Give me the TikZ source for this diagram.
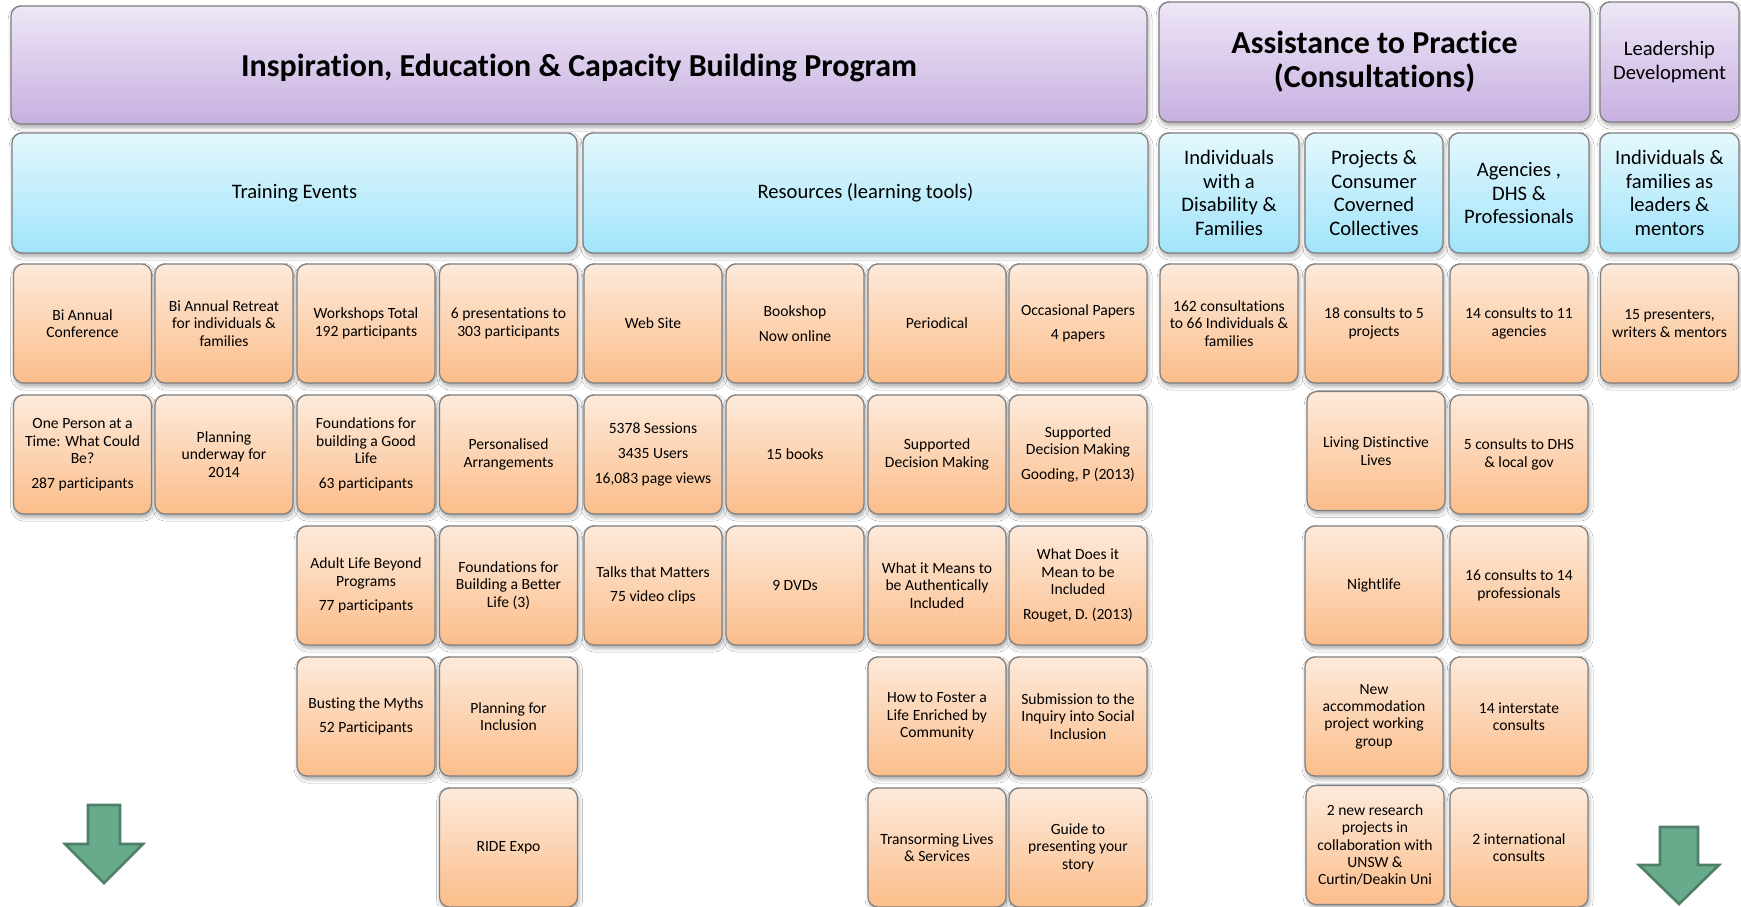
\documentclass[tikz,border=0pt]{standalone}
\usepackage{fontspec}
\setmainfont{Carlito}[Ligatures=NoCommon]
\usetikzlibrary{shadows.blur}
\definecolor{ptop}{HTML}{EEE7F7}
\definecolor{pbot}{HTML}{C7AFE0}
\definecolor{ctop}{HTML}{E4F8FD}
\definecolor{cbot}{HTML}{A0E4FA}
\definecolor{otop}{HTML}{FDEADB}
\definecolor{obot}{HTML}{FBBD8A}
\definecolor{edge}{HTML}{7F7F7F}
\definecolor{arfill}{HTML}{67AB8C}
\definecolor{aredge}{HTML}{4E8068}
\newcommand{\pg}{\\[3.6pt]}
\tikzset{
  box/.style={draw=edge, line width=0.6pt, rounded corners=5pt, align=center, inner sep=1pt,
    blur shadow={shadow xshift=0.6pt, shadow yshift=-1.6pt, shadow blur radius=2pt, shadow opacity=35}},
  ttl/.style={box, top color=ptop, bottom color=pbot, font=\fontsize{16}{17}\selectfont\bfseries},
  lead/.style={box, top color=ptop, bottom color=pbot, font=\fontsize{10.3}{12}\selectfont},
  cat/.style={box, top color=ctop, bottom color=cbot, font=\fontsize{10.3}{11.7}\selectfont},
  item/.style={box, top color=otop, bottom color=obot, minimum width=69pt, minimum height=59.5pt,
    font=\fontsize{7.8}{8.7}\selectfont},
  darrow/.style={fill=arfill, draw=aredge, line width=1.3pt, line join=miter},
}
\begin{document}
\begin{tikzpicture}[x=0.5pt,y=-0.5pt]
\fill[white] (0,0) rectangle (1741,906);
\path[use as bounding box, clip] (0,0) rectangle (1741,906);
% top row
\node[ttl, minimum width=568pt, minimum height=59pt] (prog) at (579,65) {\raisebox{-1.6pt}[\height][\depth]{Inspiration, Education \& Capacity Building Program}};
\node[ttl, minimum width=215.5pt, minimum height=60pt] (assist) at (1374.5,62) {Assistance to Practice\\(Consultations)};
\node[lead, minimum width=69.5pt, minimum height=60pt] (leader) at (1669.5,62) {Leadership\\Development};
% category row
\node[cat, minimum width=282.5pt, minimum height=60pt] (train) at (294.5,193) {Training Events};
\node[cat, minimum width=282.5pt, minimum height=60pt] (res) at (865.5,193) {Resources (learning tools)};
\node[cat, minimum width=70pt, minimum height=60pt] (indiv) at (1229,193) {Individuals\\with a\\Disability \&\\Families};
\node[cat, minimum width=69pt, minimum height=60pt] (proj) at (1374,193) {Projects \&\\Consumer\\Coverned\\Collectives};
\node[cat, minimum width=70pt, minimum height=60pt] (agen) at (1519,193) {Agencies ,\\DHS \&\\Professionals};
\node[cat, minimum width=69.5pt, minimum height=60pt] (fam) at (1669.5,193) {Individuals \&\\families as\\leaders \&\\mentors};
% row 1
\node[item] (a1) at (82.5,323.5) {Bi Annual\\Conference};
\node[item] (a2) at (224,323.5) {Bi Annual Retreat\\for individuals \&\\families};
\node[item] (a3) at (366,323.5) {Workshops Total\\192 participants};
\node[item] (a4) at (508.5,323.5) {6 presentations to\\303 participants};
\node[item] (a5) at (653,323.5) {Web Site};
\node[item] (a6) at (795,323.5) {Bookshop\pg Now online};
\node[item] (a7) at (937,323.5) {Periodical};
\node[item] (a8) at (1078,323.5) {Occasional Papers\pg 4 papers};
\node[item] (a9) at (1229,323.5) {162 consultations\\to 66 Individuals \&\\families};
\node[item] (a10) at (1374,323.5) {18 consults to 5\\projects};
\node[item] (a11) at (1519,323.5) {14 consults to 11\\agencies};
\node[item] (a12) at (1669.5,323.5) {15 presenters,\\writers \& mentors};
% row 2
\node[item] (b1) at (82.5,454.5) {One Person at a\\Time: What Could\\Be?\pg 287 participants};
\node[item] (b2) at (224,454.5) {Planning\\underway for\\2014};
\node[item] (b3) at (366,454.5) {Foundations for\\building a Good\\Life\pg 63 participants};
\node[item] (b4) at (508.5,454.5) {Personalised\\Arrangements};
\node[item] (b5) at (653,454.5) {5378 Sessions\pg 3435 Users\pg 16,083 page views};
\node[item] (b6) at (795,454.5) {15 books};
\node[item] (b7) at (937,454.5) {Supported\\Decision Making};
\node[item] (b8) at (1078,454.5) {Supported\\Decision Making\pg Gooding, P (2013)};
\node[item] (b10) at (1376,451) {Living Distinctive\\Lives};
\node[item] (b11) at (1519,454.5) {5 consults to DHS\\\& local gov};
% row 3
\node[item] (c3) at (366,585.5) {Adult Life Beyond\\Programs\pg 77 participants};
\node[item] (c4) at (508.5,585.5) {Foundations for\\Building a Better\\Life (3)};
\node[item] (c5) at (653,585.5) {Talks that Matters\pg 75 video clips};
\node[item] (c6) at (795,585.5) {9 DVDs};
\node[item] (c7) at (937,585.5) {What it Means to\\be Authentically\\Included};
\node[item] (c8) at (1078,585.5) {What Does it\\Mean to be\\Included\pg Rouget, D. (2013)};
\node[item] (c10) at (1374,585.5) {Nightlife};
\node[item] (c11) at (1519,585.5) {16 consults to 14\\professionals};
% row 4
\node[item] (d3) at (366,716.5) {Busting the Myths\pg 52 Participants};
\node[item] (d4) at (508.5,716.5) {Planning for\\Inclusion};
\node[item] (d7) at (937,716.5) {How to Foster a\\Life Enriched by\\Community};
\node[item] (d8) at (1078,716.5) {Submission to the\\Inquiry into Social\\Inclusion};
\node[item] (d10) at (1374,716.5) {New\\accommodation\\project working\\group};
\node[item] (d11) at (1519,716.5) {14 interstate\\consults};
% row 5
\node[item] (e4) at (508.5,847.5) {RIDE Expo};
\node[item] (e7) at (937,847.5) {Transorming Lives\\\& Services};
\node[item] (e8) at (1078,847.5) {Guide to\\presenting your\\story};
\node[item] (e10) at (1375,845) {2 new research\\projects in\\collaboration with\\UNSW \&\\Curtin/Deakin Uni};
\node[item] (e11) at (1519,847.5) {2 international\\consults};
% arrows
\draw[darrow] (88,805) -- (120,805) -- (120,844) -- (143,844) -- (104,883) -- (65,844) -- (88,844) -- cycle;
\draw[darrow] (1660,827) -- (1698,827) -- (1698,865) -- (1719,865) -- (1679,904) -- (1639,865) -- (1660,865) -- cycle;
\end{tikzpicture}
\end{document}
